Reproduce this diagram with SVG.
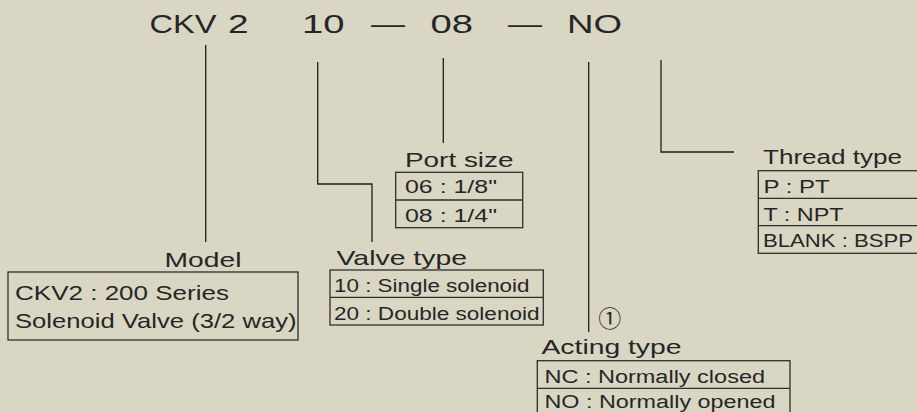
<svg xmlns="http://www.w3.org/2000/svg" width="917" height="412" viewBox="0 0 917 412">
<style>
.bg{fill:#d9d6c3}
.t{font-family:"Liberation Sans",Arial,sans-serif;fill:#262626}
.title{font-size:26px}
.h{font-size:21px}
.r{font-size:18px}
.m{font-size:21px}
.box{fill:none;stroke:#2e2e2e;stroke-width:1.3}
.ln{fill:none;stroke:#1e1e1e;stroke-width:1.3}
</style>
<rect class="bg" x="0" y="0" width="917" height="412"/>
<g id="code">
<text class="t title" x="149.5" y="33.3" textLength="67" lengthAdjust="spacingAndGlyphs">CKV</text>
<text class="t title" x="228" y="33.3" textLength="20.5" lengthAdjust="spacingAndGlyphs">2</text>
<text class="t title" x="302" y="33.3" textLength="42.5" lengthAdjust="spacingAndGlyphs">10</text>
<text class="t title" x="371" y="33.3" textLength="34" lengthAdjust="spacingAndGlyphs">—</text>
<text class="t title" x="430.5" y="33.3" textLength="42.5" lengthAdjust="spacingAndGlyphs">08</text>
<text class="t title" x="508" y="33.3" textLength="34" lengthAdjust="spacingAndGlyphs">—</text>
<text class="t title" x="567" y="33.3" textLength="55" lengthAdjust="spacingAndGlyphs">NO</text>
</g>
<g id="connectors">
<line class="ln" x1="205.7" y1="45" x2="205.7" y2="242"/>
<polyline class="ln" points="317.7,62 317.7,184 372,184 372,242"/>
<line class="ln" x1="443.3" y1="58" x2="443.3" y2="143"/>
<line class="ln" x1="588.7" y1="62" x2="588.7" y2="332"/>
<polyline class="ln" points="661,60 661,152 734,152"/>
</g>
<g id="model">
<text class="t h" x="164.5" y="266.7" textLength="77" lengthAdjust="spacingAndGlyphs">Model</text>
<rect class="box" x="8" y="272" width="290" height="68"/>
<text class="t m" x="15" y="300" textLength="214" lengthAdjust="spacingAndGlyphs">CKV2 :  200 Series</text>
<text class="t m" x="15" y="328.3" textLength="281.5" lengthAdjust="spacingAndGlyphs">Solenoid Valve (3/2 way)</text>
</g>
<g id="valve-type">
<text class="t h" x="336.5" y="265" textLength="130.5" lengthAdjust="spacingAndGlyphs">Valve type</text>
<rect class="box" x="330" y="270" width="213.3" height="55"/>
<line class="box" x1="330" y1="297.3" x2="543.3" y2="297.3"/>
<text class="t r" x="334" y="291.7" textLength="195.5" lengthAdjust="spacingAndGlyphs">10 : Single solenoid</text>
<text class="t r" x="334" y="320" textLength="205.5" lengthAdjust="spacingAndGlyphs">20 : Double solenoid</text>
</g>
<g id="port-size">
<text class="t h" x="405" y="166.7" textLength="108.5" lengthAdjust="spacingAndGlyphs">Port size</text>
<rect class="box" x="395.7" y="172.3" width="127" height="55.4"/>
<line class="box" x1="395.7" y1="200" x2="522.7" y2="200"/>
<text class="t r" x="405" y="192.7" textLength="92" lengthAdjust="spacingAndGlyphs">06 :  1/8"</text>
<text class="t r" x="405" y="222.3" textLength="92" lengthAdjust="spacingAndGlyphs">08 :  1/4"</text>
</g>
<g id="acting-type">
<text x="609.7" y="327" font-family="'Noto Sans CJK JP',sans-serif" font-size="23" text-anchor="middle" fill="#262626">①</text>
<text class="t h" x="541.5" y="354.3" textLength="140" lengthAdjust="spacingAndGlyphs">Acting type</text>
<rect class="box" x="537.3" y="360.7" width="252.7" height="60"/>
<line class="box" x1="537.3" y1="388.3" x2="790" y2="388.3"/>
<text class="t r" x="544.5" y="382.7" textLength="220.5" lengthAdjust="spacingAndGlyphs">NC :  Normally closed</text>
<text class="t r" x="544.5" y="407.5" textLength="231" lengthAdjust="spacingAndGlyphs">NO :  Normally opened</text>
</g>
<g id="thread-type">
<text class="t h" x="763" y="164.3" textLength="139" lengthAdjust="spacingAndGlyphs">Thread type</text>
<rect class="box" x="758.3" y="170.7" width="170" height="82.6"/>
<line class="box" x1="758.3" y1="198.3" x2="928" y2="198.3"/>
<line class="box" x1="758.3" y1="225.7" x2="928" y2="225.7"/>
<text class="t r" x="763.5" y="192.7" textLength="66" lengthAdjust="spacingAndGlyphs">P :  PT</text>
<text class="t r" x="763.5" y="220.7" textLength="80" lengthAdjust="spacingAndGlyphs">T :  NPT</text>
<text class="t r" x="763" y="246.7" textLength="150" lengthAdjust="spacingAndGlyphs">BLANK : BSPP</text>
</g>
</svg>
